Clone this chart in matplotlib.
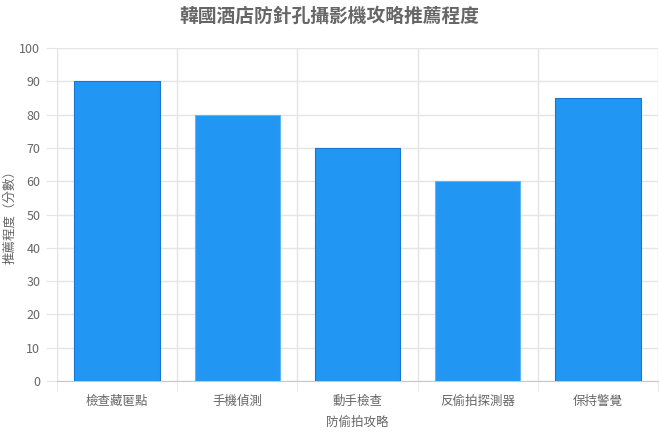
import matplotlib.pyplot as plt
import numpy as np

plt.rcParams['font.family'] = ['Noto Sans CJK TC', 'DejaVu Sans']

categories = ['檢查藏匿點', '手機偵測', '動手檢查', '反偷拍探測器', '保持警覺']
scores = [90, 80, 70, 60, 85]
edge_colors = ['#1976D2', '#64B5F6', '#1976D2', '#64B5F6', '#1976D2']

fig = plt.figure(figsize=(6.59, 4.33), dpi=100)
ax = fig.add_axes([57 / 659, 52 / 433, 601 / 659, 333 / 433])

x = np.arange(len(categories))
ax.bar(x, scores, width=0.71, color='#2196F3', edgecolor=edge_colors, linewidth=0.8, zorder=3)

ax.set_xlim(-0.5, len(categories) - 0.5)
ax.set_ylim(0, 100)
ax.set_yticks(range(0, 101, 10))
ax.set_xticks(x)
ax.set_xticklabels(categories)
ax.set_xticks(np.arange(-0.5, len(categories)), minor=True)

ax.grid(True, which='minor', axis='x', color='#e5e5e5', linewidth=1, zorder=0)
ax.grid(True, which='major', axis='y', color='#e5e5e5', linewidth=1, zorder=0)
ax.tick_params(axis='x', which='major', length=0, pad=10, labelsize=9, labelcolor='#666666')
ax.tick_params(axis='x', which='minor', length=8, color='#e5e5e5')
ax.tick_params(axis='y', length=8, color='#e5e5e5', pad=4, labelsize=9, labelcolor='#666666')

for side in ['top', 'right']:
    ax.spines[side].set_visible(False)
ax.spines['left'].set_color('#e5e5e5')
ax.spines['bottom'].set_color('#c8c8c8')

ax.set_xlabel('防偷拍攻略', fontsize=9, color='#666666', labelpad=6)
ax.set_ylabel('推薦程度（分數）', fontsize=9, color='#666666')
ax.yaxis.set_label_coords(-0.068, 0.5)
fig.suptitle('韓國酒店防針孔攝影機攻略推薦程度', x=0.5, y=0.985, fontsize=13.5,
             fontweight='bold', color='#666666')

fig.savefig('out.png', dpi=100)
